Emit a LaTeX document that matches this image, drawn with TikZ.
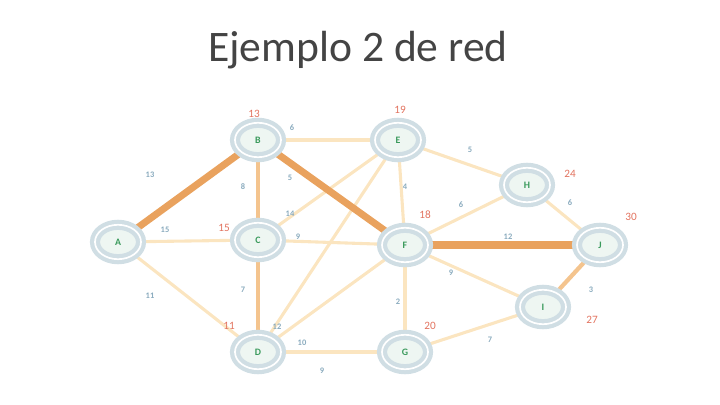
\documentclass[tikz,border=0pt]{standalone}
\usepackage{fontspec}
\setmainfont{Carlito}
\usetikzlibrary{shapes.geometric, backgrounds}
\definecolor{ringblue}{HTML}{D0DEE4}
\definecolor{nodefill}{HTML}{EEF6F2}
\definecolor{nodegreen}{HTML}{3A9A5C}
\definecolor{pathorange}{HTML}{E9A25E}
\definecolor{midorange}{HTML}{F4C48E}
\definecolor{paleorange}{HTML}{FBE5C0}
\definecolor{weightblue}{HTML}{8AABBE}
\definecolor{distred}{HTML}{E2735F}
\definecolor{titlegray}{HTML}{444444}

\begin{document}
\begin{tikzpicture}[
    x=0.025cm, y=-0.025cm,
    vertex/.style={
        ellipse, draw=ringblue, line width=3pt, fill=nodefill,
        double=white, double distance=1.2pt,
        minimum width=1.15cm, minimum height=0.86cm, inner sep=0pt,
        font=\scriptsize\bfseries, text=nodegreen
    },
    edge/.style={draw=paleorange, line width=2.2pt},
    tree/.style={draw=midorange, line width=3pt},
    best/.style={draw=pathorange, line width=5pt},
    weight/.style={font=\fontsize{6}{7}\selectfont\bfseries, text=weightblue, inner sep=1pt},
    dist/.style={font=\fontsize{8}{9}\selectfont, text=distred, inner sep=1pt}
]
\useasboundingbox (0,0) rectangle (720,405);

\node[font=\fontsize{31}{36}\selectfont, text=titlegray] (title) at (358,50) {Ejemplo 2 de red};

% nodos
\node[vertex] (A) at (118,242) {A};
\node[vertex] (B) at (258,140) {B};
\node[vertex] (C) at (258,240) {C};
\node[vertex] (D) at (258,352) {D};
\node[vertex] (E) at (398,140) {E};
\node[vertex] (F) at (405,245) {F};
\node[vertex] (G) at (405,352) {G};
\node[vertex] (H) at (527,185) {H};
\node[vertex] (I) at (543,307) {I};
\node[vertex] (J) at (600,245) {J};

% aristas
\begin{scope}[on background layer]
    \draw[edge] (A) -- (C);
    \draw[edge] (A) -- (D);
    \draw[edge] (B) -- (E);
    \draw[edge] (C) -- (E);
    \draw[edge] (C) -- (F);
    \draw[edge] (D) -- (E);
    \draw[edge] (D) -- (F);
    \draw[edge] (D) -- (G);
    \draw[edge] (E) -- (F);
    \draw[edge] (E) -- (H);
    \draw[edge] (F) -- (H);
    \draw[edge] (F) -- (I);
    \draw[edge] (F) -- (G);
    \draw[edge] (G) -- (I);
    \draw[edge] (H) -- (J);
    \draw[tree] (B) -- (C);
    \draw[tree] (C) -- (D);
    \draw[tree] (I) -- (J);
    \draw[best] (A) -- (B);
    \draw[best] (B) -- (F);
    \draw[best] (F) -- (J);
\end{scope}

% pesos
\node[weight] (wab) at (150,175) {13};
\node[weight] (wac) at (165,230) {15};
\node[weight] (wad) at (150,296) {11};
\node[weight] (wbe) at (292,128) {6};
\node[weight] (wbc) at (243,187) {8};
\node[weight] (wbf) at (290,178) {5};
\node[weight] (wce) at (290,214) {14};
\node[weight] (wcf) at (298,237) {9};
\node[weight] (wcd) at (243,290) {7};
\node[weight] (wde) at (277,327) {12};
\node[weight] (wdf) at (302,343) {10};
\node[weight] (wdg) at (322,371) {9};
\node[weight] (wef) at (405,187) {4};
\node[weight] (weh) at (470,150) {5};
\node[weight] (wfh) at (461,205) {6};
\node[weight] (wfj) at (508,237) {12};
\node[weight] (wfi) at (451,273) {9};
\node[weight] (wfg) at (398,302) {2};
\node[weight] (wgi) at (490,340) {7};
\node[weight] (whj) at (570,203) {6};
\node[weight] (wij) at (591,290) {3};

% distancias
\node[dist] (dB) at (254,114) {13};
\node[dist] (dE) at (400,110) {19};
\node[dist] (dC) at (224,228) {15};
\node[dist] (dF) at (425,215) {18};
\node[dist] (dH) at (570,174) {24};
\node[dist] (dJ) at (631,217) {30};
\node[dist] (dI) at (592,320) {27};
\node[dist] (dG) at (430,326) {20};
\node[dist] (dD) at (229,326) {11};

\end{tikzpicture}
\end{document}
